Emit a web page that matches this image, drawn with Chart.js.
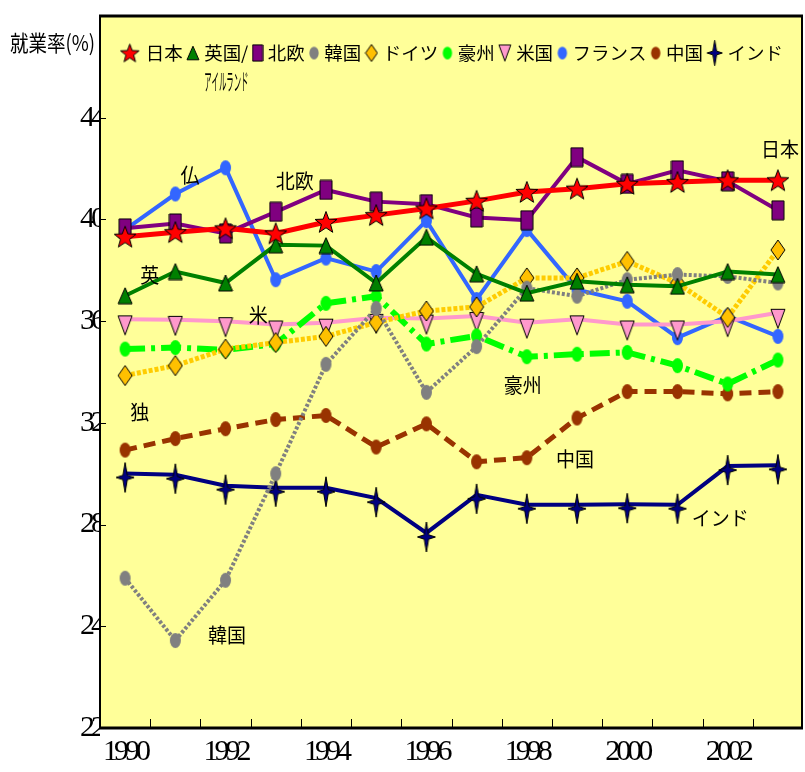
<!DOCTYPE html>
<html>
<head>
<meta charset="utf-8">
<script src="https://cdn.jsdelivr.net/npm/chart.js@4/dist/chart.umd.min.js"></script>
<style>
  html, body { margin: 0; padding: 0; background: #ffffff; }
  #c { display: block; }
</style>
</head>
<body>
<canvas id="c" width="805" height="772"></canvas>
<script>
// ---- data ----
const years = ['1990','1991','1992','1993','1994','1995','1996','1997','1998','1999','2000','2001','2002','2003'];

const japan     = [39.32, 39.5, 39.65, 39.45, 39.9, 40.17, 40.43, 40.73, 41.08, 41.21, 41.4, 41.47, 41.54, 41.54];
const ukIreland = [37.0, 37.95, 37.5, 39.0, 38.97, 37.5, 39.3, 37.86, 37.1, 37.57, 37.43, 37.37, 37.95, 37.83];
const nordic    = [39.65, 39.84, 39.45, 40.3, 41.16, 40.7, 40.6, 40.08, 39.97, 42.45, 41.4, 41.93, 41.5, 40.36];
const korea     = [25.89, 23.44, 25.81, 30.0, 34.3, 36.5, 33.2, 35.0, 37.3, 36.98, 37.63, 37.83, 37.76, 37.5];
const germany   = [33.86, 34.25, 34.9, 35.16, 35.4, 35.95, 36.4, 36.56, 37.7, 37.7, 38.35, 37.5, 36.15, 38.8];
const australia = [34.9, 34.96, 34.87, 35.1, 36.7, 36.98, 35.1, 35.42, 34.6, 34.7, 34.77, 34.25, 33.53, 34.47];
const usa       = [36.07, 36.05, 36.0, 35.87, 35.94, 36.13, 36.1, 36.2, 35.94, 36.07, 35.87, 35.87, 36.0, 36.33];
const france    = [39.6, 41.0, 42.03, 37.63, 38.48, 37.95, 39.95, 36.85, 39.6, 37.24, 36.78, 35.35, 36.2, 35.4];
const china     = [30.93, 31.38, 31.77, 32.13, 32.29, 31.05, 31.96, 30.47, 30.63, 32.19, 33.23, 33.23, 33.14, 33.23];
const india     = [30.01, 29.96, 29.53, 29.45, 29.45, 29.04, 27.67, 29.17, 28.78, 28.78, 28.8, 28.78, 30.3, 30.33];

const seriesNames = ['日本', '英国/アイルランド', '北欧', '韓国', 'ドイツ', '豪州', '米国', 'フランス', '中国', 'インド'];

const yTickValues = [20, 24, 28, 32, 36, 40, 44];
const yTickLabels = ['22', '24', '28', '32', '36', '40', '44'];
const yTitle = '就業率(%)';

// series name labels written beside the lines: [text, category index, value]
const lineLabels = [
  ['仏',     1.29, 41.72],
  ['北欧',   3.38, 41.48],
  ['英',     0.49, 37.81],
  ['米',     2.65, 36.21],
  ['独',     0.29, 32.42],
  ['豪州',   7.92, 33.48],
  ['中国',   8.96, 30.55],
  ['インド', 11.85, 28.24],
  ['韓国',   2.03, 23.63],
  ['日本',   13.04, 42.77]
];

// ---- marker images ----
function markerCanvas(w, h, paint) {
  const c = document.createElement('canvas');
  c.width = Math.ceil(w); c.height = Math.ceil(h);
  const g = c.getContext('2d');
  paint(g, c.width / 2, c.height / 2);
  return c;
}
function starPath(g, cx, cy, n, rOut, rIn) {
  g.beginPath();
  for (let i = 0; i < n * 2; i++) {
    const r = i % 2 === 0 ? rOut : rIn;
    const a = -Math.PI / 2 + i * Math.PI / n;
    g.lineTo(cx + Math.cos(a) * r, cy + Math.sin(a) * r);
  }
  g.closePath();
}
function fillStroke(g, fill, stroke) {
  g.fillStyle = fill; g.fill();
  if (stroke) { g.lineWidth = 1; g.strokeStyle = '#000'; g.stroke(); }
}
function oval(color, k) {
  return markerCanvas(13 * k, 17 * k, (g, cx, cy) => {
    g.beginPath(); g.ellipse(cx, cy, 5.5 * k, 7.5 * k, 0, 0, Math.PI * 2); fillStroke(g, color);
  });
}
function makeMarkers(k, dyInv, dyInd) {
  return {
    star: markerCanvas(26 * k, 26 * k, (g, cx, cy) => { starPath(g, cx, cy + 1 * k, 5, 11.5 * k, 4.8 * k); fillStroke(g, '#ff0000', true); }),
    tri: markerCanvas(16 * k, 18 * k, (g, cx, cy) => {
      g.beginPath(); g.moveTo(cx, cy - 8 * k); g.lineTo(cx + 7 * k, cy + 8 * k); g.lineTo(cx - 7 * k, cy + 8 * k); g.closePath();
      fillStroke(g, '#008000', true);
    }),
    rect: markerCanvas(14 * k, 21 * k, (g, cx, cy) => {
      g.beginPath(); g.rect(cx - 6 * k, cy - 9.5 * k, 12 * k, 19 * k); fillStroke(g, '#800080', true);
    }),
    ellGray: oval('#808080', k),
    diamond: markerCanvas(16 * k, 22 * k, (g, cx, cy) => {
      g.beginPath(); g.moveTo(cx, cy - 10 * k); g.lineTo(cx + 7 * k, cy); g.lineTo(cx, cy + 10 * k); g.lineTo(cx - 7 * k, cy); g.closePath();
      fillStroke(g, '#ffc000', true);
    }),
    ellGreen: oval('#00ff00', k),
    invTri: markerCanvas(16 * k, 2 * (10 + dyInv) * k + 2, (g, cx, cy) => {
      const c = cy + dyInv * k;
      g.beginPath(); g.moveTo(cx - 7 * k, c - 9.5 * k); g.lineTo(cx + 7 * k, c - 9.5 * k); g.lineTo(cx, c + 9.5 * k); g.closePath();
      fillStroke(g, '#ff99cc', true);
    }),
    ellBlue: oval('#3366ff', k),
    ellBrown: oval('#993300', k),
    star4: markerCanvas(20 * k, 2 * (16 + dyInd) * k + 2, (g, cx, cy) => {
      const c = cy + dyInd * k;
      g.beginPath();
      const pts = [[0, -15], [2.2, -2.2], [9, 0], [2.2, 2.2], [0, 15], [-2.2, 2.2], [-9, 0], [-2.2, -2.2]];
      pts.forEach(p => g.lineTo(cx + p[0] * k, c + p[1] * k));
      g.closePath();
      fillStroke(g, '#000080', true);
    })
  };
}
const mk = makeMarkers(1, 6, 4);
const mkLegend = makeMarkers(0.85, 0, 0);
const markerOrder = ['star', 'tri', 'rect', 'ellGray', 'diamond', 'ellGreen', 'invTri', 'ellBlue', 'ellBrown', 'star4'];

const CJK = '"Noto Sans CJK JP", "Noto Sans CJK SC", sans-serif';

function squishedText(ctx, text, x, y, size, sx, align) {
  ctx.save();
  ctx.letterSpacing = '0px';
  ctx.font = size + 'px ' + CJK;
  ctx.fillStyle = '#000';
  ctx.textBaseline = 'middle';
  ctx.textAlign = align || 'center';
  ctx.translate(x, y);
  ctx.scale(sx, 1);
  ctx.fillText(text, 0, 0);
  ctx.restore();
}
function textWidth(ctx, text, size) {
  ctx.save();
  ctx.letterSpacing = '0px';
  ctx.font = size + 'px ' + CJK;
  const w = ctx.measureText(text).width;
  ctx.restore();
  return w;
}

// ---- plugins ----
const frame = {
  id: 'frame',
  beforeUpdate(chart) { chart.ctx.letterSpacing = '-4px'; },
  beforeDraw(chart) {
    const { ctx, chartArea: a } = chart;
    ctx.save();
    ctx.fillStyle = '#ffff99';
    ctx.fillRect(a.left, a.top, a.right - a.left, a.bottom - a.top);
    ctx.restore();
    ctx.letterSpacing = '-4px';
  },
  afterDraw(chart) {
    const { ctx, chartArea: a } = chart;
    const xs = chart.scales.x, ys = chart.scales.y;
    ctx.save();
    ctx.letterSpacing = '0px';
    ctx.strokeStyle = '#000';
    // plot frame
    ctx.lineWidth = 2;
    ctx.beginPath();
    ctx.moveTo(a.left, a.top); ctx.lineTo(a.left, a.bottom);
    ctx.moveTo(a.right - 1, a.top); ctx.lineTo(a.right - 1, a.bottom);
    ctx.stroke();
    ctx.lineWidth = 3;
    ctx.beginPath();
    ctx.moveTo(a.left - 1, a.top); ctx.lineTo(a.right, a.top);
    ctx.moveTo(a.left - 1, a.bottom); ctx.lineTo(a.right, a.bottom);
    ctx.stroke();
    // inner tick marks
    ctx.lineWidth = 1;
    ctx.beginPath();
    const step = xs.getPixelForValue(1) - xs.getPixelForValue(0);
    for (let i = 1; i < years.length; i++) {
      const px = Math.round(xs.getPixelForValue(i) - step / 2) + 0.5;
      ctx.moveTo(px, a.bottom); ctx.lineTo(px, a.bottom - 9);
    }
    yTickValues.forEach(v => {
      const py = Math.round(ys.getPixelForValue(v)) + 0.5;
      ctx.moveTo(a.left, py); ctx.lineTo(a.left + 6, py);
    });
    ctx.stroke();
    ctx.restore();

    // axis title
    squishedText(ctx, yTitle, 10, 43, 22, 85 / textWidth(ctx, yTitle, 22), 'left');

    // series labels beside the lines
    lineLabels.forEach(([t, xi, v]) => {
      squishedText(ctx, t, xs.getPixelForValue(xi), ys.getPixelForValue(v), 20, 0.95, 'center');
    });

    // legend row
    const items = chart.data.datasets.map((ds, i) => {
      const parts = ds.label.split('/');
      const first = parts.length > 1 ? parts[0] + '/' : parts[0];
      const second = parts.length > 1 ? parts.slice(1).join('/') : null;
      return { img: mkLegend[markerOrder[i]], first, second, w: textWidth(ctx, first, 18) };
    });
    const gapA = 4, gapB = 3;
    let natural = 0;
    items.forEach(it => { natural += it.img.width + gapA + it.w + gapB; });
    const sx = (786 - 118) / natural;
    let x = 118;
    const cy = 53;
    items.forEach(it => {
      const iw = it.img.width * sx;
      ctx.drawImage(it.img, x + (iw - it.img.width) / 2, cy - it.img.height / 2);
      x += iw + gapA * sx;
      squishedText(ctx, it.first, x, cy, 18, sx, 'left');
      if (it.second) {
        const w2 = textWidth(ctx, it.second, 23);
        squishedText(ctx, it.second, x, cy + 28, 23, (it.w * sx) / w2, 'left');
      }
      x += it.w * sx + gapB * sx;
    });
  }
};

const lineStyles = [
  { data: japan,     color: '#ff0000', width: 5, dash: [] },
  { data: ukIreland, color: '#008000', width: 4, dash: [] },
  { data: nordic,    color: '#800080', width: 4, dash: [] },
  { data: korea,     color: '#808080', width: 4, dash: [3, 2] },
  { data: germany,   color: '#ffcc00', width: 5, dash: [4, 2] },
  { data: australia, color: '#00ff00', width: 6, dash: [20, 6, 4, 6] },
  { data: usa,       color: '#ff99cc', width: 4, dash: [] },
  { data: france,    color: '#3366ff', width: 4, dash: [] },
  { data: china,     color: '#993300', width: 5, dash: [12, 7] },
  { data: india,     color: '#000080', width: 4, dash: [] }
];

const datasets = lineStyles.map((s, i) => ({
  label: seriesNames[i],
  data: s.data,
  borderColor: s.color,
  backgroundColor: s.color,
  borderWidth: s.width,
  borderDash: s.dash,
  borderCapStyle: 'butt',
  tension: 0,
  fill: false,
  pointStyle: mk[markerOrder[i]],
  pointRadius: 10,
  pointHoverRadius: 10
}));

new Chart(document.getElementById('c'), {
  type: 'line',
  data: { labels: years, datasets },
  options: {
    responsive: false,
    animation: false,
    events: [],
    layout: { autoPadding: false, padding: { top: 12, right: 2, left: 0, bottom: 0 } },
    plugins: { legend: { display: false }, tooltip: { enabled: false } },
    scales: {
      x: {
        type: 'category',
        offset: true,
        grid: { display: false, drawTicks: false },
        border: { display: false },
        ticks: {
          autoSkip: false,
          maxRotation: 0,
          padding: 6,
          color: '#000',
          font: { family: '"Liberation Serif", "Times New Roman", serif', size: 30 },
          callback: (v, i) => (i % 2 === 0 ? years[i] : '')
        },
        afterFit: s => { s.height = 44; }
      },
      y: {
        min: 20,
        max: 48,
        grid: { display: false, drawTicks: false },
        border: { display: false },
        ticks: {
          stepSize: 4,
          padding: -2,
          color: '#000',
          font: { family: '"Liberation Serif", "Times New Roman", serif', size: 30 },
          callback: v => {
            const i = yTickValues.indexOf(v);
            return i >= 0 ? yTickLabels[i] : '';
          }
        },
        afterFit: s => { s.width = 100; }
      }
    }
  },
  plugins: [frame]
});
</script>
</body>
</html>
